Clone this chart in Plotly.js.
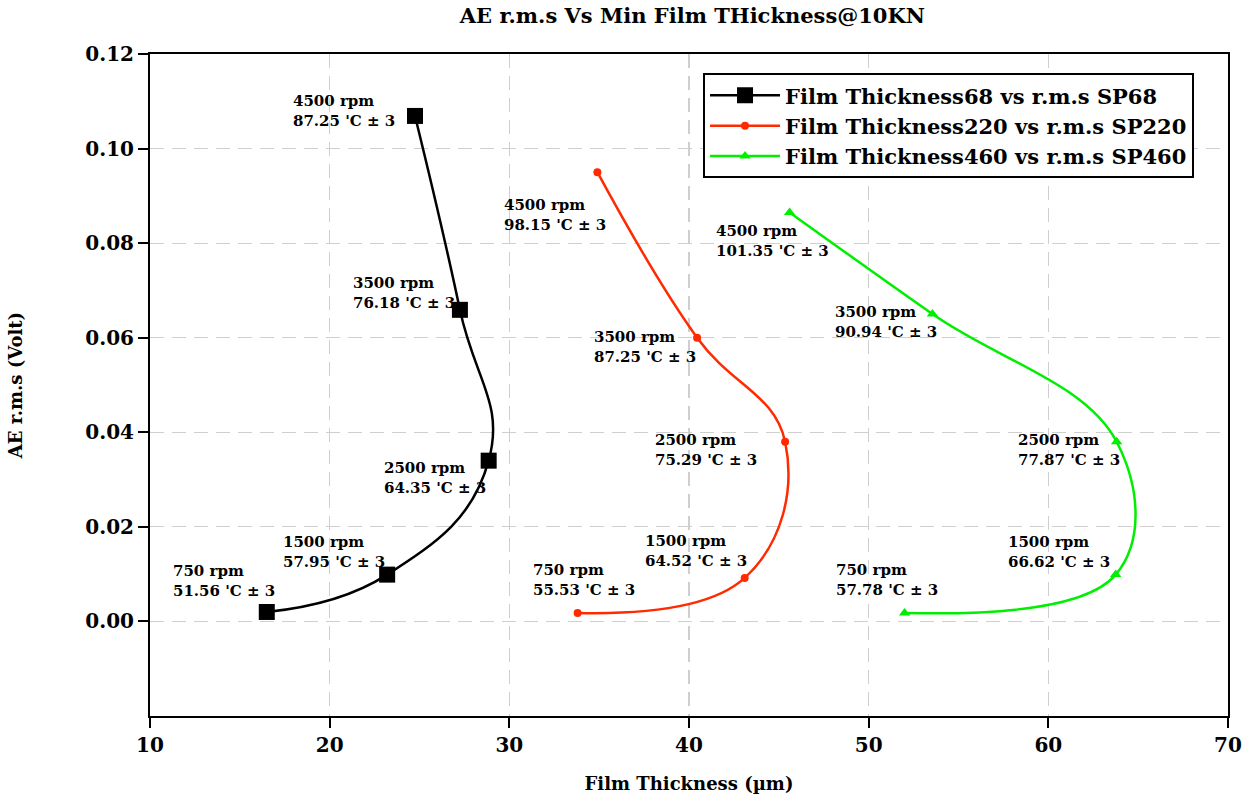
<!DOCTYPE html>
<html>
<head>
<meta charset="utf-8">
<script src="https://cdn.plot.ly/plotly-3.0.1.min.js"></script>
<style>html,body{margin:0;padding:0;background:#fff;}#chart{width:1252px;height:798px;}</style>
</head>
<body>
<div id="chart"></div>
<script>
// ---- data ----
const speeds = ["750 rpm", "1500 rpm", "2500 rpm", "3500 rpm", "4500 rpm"];

const thick68 = [16.5, 23.2, 28.85, 27.25, 24.75];
const rms68   = [0.0020, 0.0099, 0.0340, 0.0659, 0.1069];
const temp68  = ["51.56 'C ± 3", "57.95 'C ± 3", "64.35 'C ± 3", "76.18 'C ± 3", "87.25 'C ± 3"];

const thick220 = [33.8, 43.1, 45.35, 40.45, 34.9];
const rms220   = [0.0018, 0.0092, 0.0380, 0.0600, 0.0950];
const temp220  = ["55.53 'C ± 3", "64.52 'C ± 3", "75.29 'C ± 3", "87.25 'C ± 3", "98.15 'C ± 3"];

const thick460 = [52.0, 63.75, 63.8, 53.55, 45.6];
const rms460   = [0.0018, 0.0099, 0.0380, 0.0650, 0.0865];
const temp460  = ["57.78 'C ± 3", "66.62 'C ± 3", "77.87 'C ± 3", "90.94 'C ± 3", "101.35 'C ± 3"];

const seriesNames = [
  "Film Thickness68 vs r.m.s SP68",
  "Film Thickness220 vs r.m.s SP220",
  "Film Thickness460 vs r.m.s SP460"
];

const xTicks = [10, 20, 30, 40, 50, 60, 70];
const yTicks = [0.00, 0.02, 0.04, 0.06, 0.08, 0.10, 0.12];
const yTickText = yTicks.map(v => v.toFixed(2));

// ---- presentation ----
const FONT = "DejaVu Serif, Liberation Serif, serif";
const colors = ["#000000", "#ff2a00", "#00ee00"];
const symbols = ["square", "circle", "triangle-up"];
const msizes = [16, 8, 10];
const smooth = [1.3, 1.2, 1.15];

const series = [
  {x: thick68, y: rms68, t: temp68},
  {x: thick220, y: rms220, t: temp220},
  {x: thick460, y: rms460, t: temp460}
];

// label pixel offsets (left edge, vertical centre) relative to each point
const labelShift = [
  [[-96, 31], [-106, 23], [-107, -17], [-109, 17], [-124, 5]],
  [[-47, 33], [-102, 27], [-132, -8], [-105, -9], [-95, -43]],
  [[-71, 33], [-110, 23], [-101, -8], [-99, -8], [-76, -29]]
];

const traces = series.map((s, i) => ({
  type: "scatter",
  mode: "lines+markers",
  name: seriesNames[i],
  x: s.x, y: s.y,
  line: {color: colors[i], width: 2.5, shape: "spline", smoothing: smooth[i]},
  marker: {color: colors[i], symbol: symbols[i], size: msizes[i]}
}));

const annotations = [];
series.forEach((s, i) => {
  s.x.forEach((xv, j) => {
    annotations.push({
      x: xv, y: s.y[j], xref: "x", yref: "y",
      text: speeds[j] + "<br>" + s.t[j],
      showarrow: false, xanchor: "left", yanchor: "middle", align: "left",
      xshift: labelShift[i][j][0], yshift: labelShift[i][j][1],
      font: {family: FONT, size: 15, color: "#000", weight: "bold"}
    });
  });
});

const axisCommon = {
  showline: true, linecolor: "#000", linewidth: 2, mirror: true,
  ticks: "outside", ticklen: 10, tickwidth: 2, tickcolor: "#000",
  showgrid: true, gridcolor: "#cfcfcf", griddash: "14px,8px", gridwidth: 1.2,
  zeroline: false,
  tickfont: {family: FONT, size: 20, color: "#000", weight: "bold"}
};

const layout = {
  width: 1252, height: 798,
  margin: {l: 150, r: 24, t: 54, b: 82},
  paper_bgcolor: "#fff", plot_bgcolor: "#fff",
  title: {
    text: "AE r.m.s Vs Min Film THickness@10KN",
    x: 0.553, xanchor: "center", y: 0.99, yanchor: "top",
    font: {family: FONT, size: 21, color: "#000", weight: "bold"}
  },
  xaxis: Object.assign({}, axisCommon, {
    range: [10, 70], tickvals: xTicks, ticktext: xTicks.map(String),
    title: {text: "Film Thickness (µm)", standoff: 21,
            font: {family: FONT, size: 18, color: "#000", weight: "bold"}}
  }),
  yaxis: Object.assign({}, axisCommon, {
    range: [-0.02, 0.12], tickvals: yTicks, ticktext: yTickText,
    title: {text: "AE r.m.s (Volt)", standoff: 58,
            font: {family: FONT, size: 18, color: "#000", weight: "bold"}}
  }),
  legend: {
    x: 0.513, y: 0.971, xanchor: "left", yanchor: "top",
    bgcolor: "#fff", bordercolor: "#000", borderwidth: 2,
    font: {family: FONT, size: 21, color: "#000", weight: "bold"},
    itemwidth: 70, tracegroupgap: 0
  },
  showlegend: true,
  annotations: annotations
};

Plotly.newPlot("chart", traces, layout, {displayModeBar: false, staticPlot: true});
</script>
</body>
</html>
